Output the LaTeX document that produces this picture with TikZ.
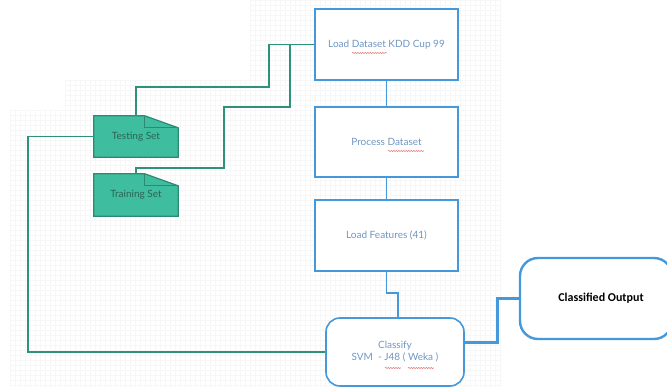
\documentclass[tikz,border=0pt]{standalone}
\usepackage{fontspec}
\setmainfont{Lato}
\newfontfamily\carlito{Carlito}
\usetikzlibrary{calc,decorations.pathmorphing}
\definecolor{boxblue}{HTML}{4598DA}
\definecolor{txtblue}{HTML}{7096C4}
\definecolor{notefill}{HTML}{3EBE9E}
\definecolor{noteline}{HTML}{2C8A73}
\definecolor{greenline}{HTML}{2F917A}
\definecolor{notetext}{HTML}{2B6456}
\definecolor{squig}{HTML}{E07070}
\tikzset{
  procbox/.style={draw=boxblue, line width=1.6pt, fill=white, minimum width=143pt, text=txtblue, font=\fontsize{10}{12}\selectfont, inner sep=0pt},
  roundbox/.style={procbox, rounded corners=14pt, align=center},
  outbox/.style={draw=boxblue, line width=2.4pt, fill=white, rounded corners=18pt, minimum width=152pt, minimum height=81pt, font=\carlito\bfseries\fontsize{12}{14}\selectfont, text=black},
  notebox/.style={minimum width=84pt, inner sep=0pt},
  notelabel/.style={text=notetext, font=\fontsize{10}{12}\selectfont},
  blueline/.style={draw=boxblue, line width=1.5pt},
  thickblue/.style={draw=boxblue, line width=3pt},
  greenconn/.style={draw=greenline, line width=1.4pt},
  squiggle/.style={draw=squig, line width=0.5pt, decorate, decoration={snake, amplitude=0.6pt, segment length=2.5pt}},
  gridline/.style={draw=black!3, line width=0.2pt}
}
\begin{document}
\begin{tikzpicture}[x=1pt,y=-1pt]
\useasboundingbox (0,0) rectangle (667,387);
\clip (0,0) rectangle (667,387);
\fill[white] (0,0) rectangle (667,387);
% faint grid
\draw[gridline, step=5pt] (10,110) grid (500,387);
\draw[gridline, step=5pt] (65,80) grid (500,110);
\draw[gridline, step=5pt] (250,0) grid (500,80);
% main boxes
\node[procbox, minimum height=71pt] (load) at (386.5,44.5) {Load Dataset KDD Cup 99};
\node[procbox, minimum height=70pt] (proc) at (386.5,142) {Process Dataset};
\node[procbox, minimum height=71pt] (feat) at (386.5,235.5) {Load Features (41)};
\node[roundbox, minimum width=138pt, minimum height=68pt] (cls) at (395,352) {Classify\\SVM\ \ - J48 ( Weka )};
\node[outbox] (out) at (596,298.5) {\hspace*{10pt}Classified Output};
% notes
\node[notebox, minimum height=41pt] (test) at (136,136.5) {};
\node[notebox, minimum height=42pt] (train) at (136,195) {};
\foreach \n/\t in {test/Testing Set, train/Training Set}{
  \filldraw[fill=notefill, draw=noteline, line width=1.2pt, line join=miter]
    (\n.north west) -- ($(\n.north west)+(51,0)$) -- ($(\n.north east)+(0,12)$) -- (\n.south east) -- (\n.south west) -- cycle;
  \draw[noteline, line width=1pt] ($(\n.north west)+(51,0)$) -- ($(\n.north west)+(51,12)$) -- ($(\n.north east)+(0,12)$);
  \node[notelabel] at (\n.center) {\t};
}
% blue connectors
\draw[blueline] (load.south) -- (proc.north);
\draw[blueline] (proc.south) -- (feat.north);
\coordinate (fk) at (398,293);
\draw[blueline] (feat.south) |- (fk) -- (fk |- cls.north);
\coordinate (ce) at (cls.east |- 0,343);
\coordinate (cx) at (497,343);
\draw[thickblue] (ce) -- (cx) |- (out.west);
% green connectors
\draw[greenconn] (test.north) -- (136,87) -- (269,87) -- (269,44.5) -- (load.west);
\draw[greenconn] (train.north) -- (136,168) -- (224,168) -- (224,107) -- (290,107) -- (290,44.5);
\draw[greenconn] (test.west) -- (28,136.5) |- (cls.west);
% spell-check squiggles
\draw[squiggle] (352,53) -- (387,53);
\draw[squiggle] (388,151) -- (424,151);
\draw[squiggle] (385,368) -- (401,368);
\draw[squiggle] (408,368) -- (434,368);
\end{tikzpicture}
\end{document}
